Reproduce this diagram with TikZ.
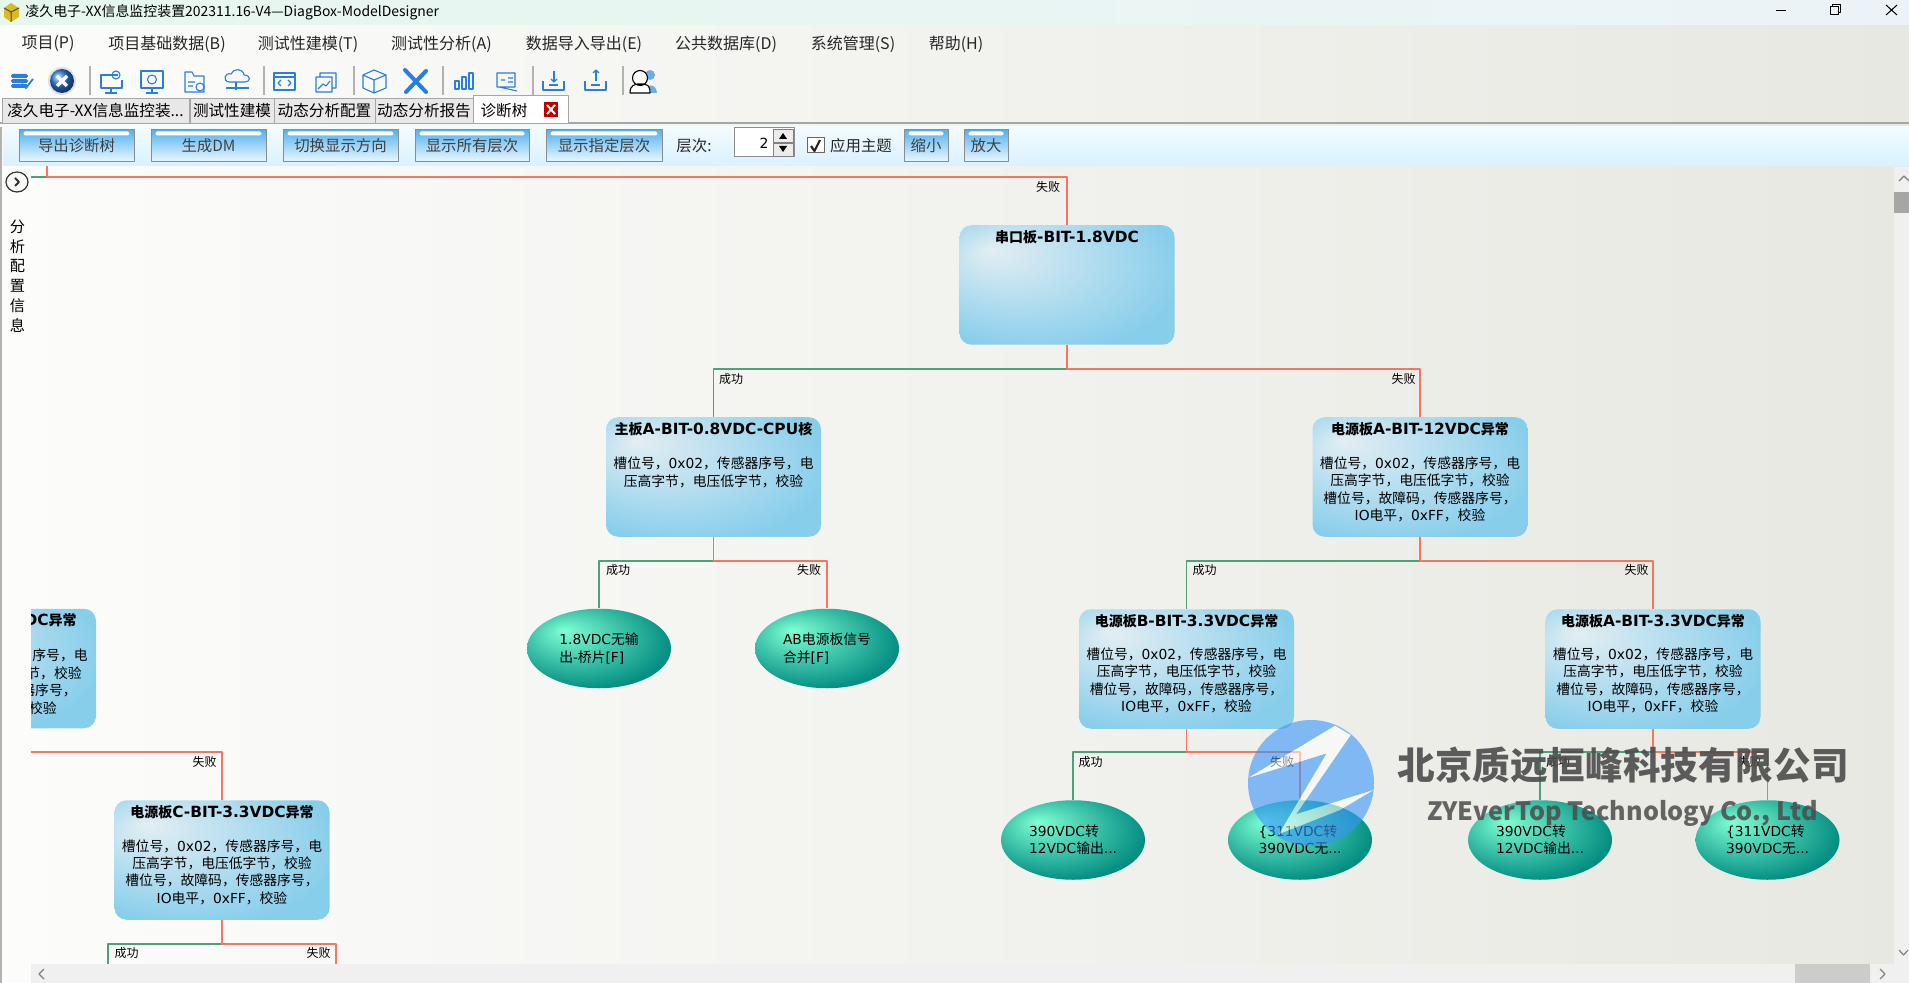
\documentclass[tikz,border=0pt]{standalone}
\usepackage{fontspec}
\setmainfont{DejaVu Sans}
\newfontfamily\cjk{Noto Sans CJK SC}
\usetikzlibrary{shapes.geometric,calc}
\newcommand{\cn}[1]{{\cjk #1}}
\newcommand{\ct}[1]{{\cjk\fontsize{7}{8.6}\selectfont #1}}
\def\pxu{.5pt}
\definecolor{boardhi}{HTML}{E3EEF3}
\definecolor{boardlo}{HTML}{87CEEB}
\definecolor{leafhi}{HTML}{7FFFD4}
\definecolor{leaflo}{HTML}{008B80}
\definecolor{okgreen}{HTML}{4FA078}
\definecolor{failred}{HTML}{FA7560}
\definecolor{iconblue}{HTML}{2A7DE1}
\definecolor{markblue}{HTML}{3894FA}
\definecolor{btntop}{HTML}{52B3F0}
\definecolor{btnbot}{HTML}{EEF8FD}
\definecolor{striptop}{HTML}{F3FBFF}
\definecolor{stripbot}{HTML}{D9F1FF}
\definecolor{canvasl}{HTML}{FCFCFB}
\definecolor{canvasr}{HTML}{E8E8E2}
\definecolor{titlel}{HTML}{E6F7EE}
\definecolor{titler}{HTML}{ECF3F8}
\pgfdeclareradialshading{boardglow}{\pgfpoint{-18bp}{15bp}}{color(0bp)=(boardhi); color(33bp)=(boardlo); color(50bp)=(boardlo)}
\pgfdeclareradialshading{leafglow}{\pgfpoint{-12.5bp}{11.5bp}}{color(0bp)=(leafhi); color(31bp)=(leaflo); color(50bp)=(leaflo)}
\tikzset{
  boardbox/.style={shading=boardglow,rounded corners=6pt,minimum width=215*\pxu,minimum height=119.5*\pxu,inner sep=0pt},
  boardtitle/.style={font=\fontsize{7.7}{8.6}\selectfont\bfseries,inner sep=0pt},
  boardbody/.style={font=\fontsize{6.9}{8.65}\selectfont,align=center,inner sep=0pt},
  leafnode/.style={ellipse,shading=leafglow,minimum width=144*\pxu,minimum height=79.5*\pxu,inner sep=0pt,font=\fontsize{6.9}{8.7}\selectfont,align=left},
  okline/.style={draw=okgreen,line width=.65pt},
  failline/.style={draw=failred,line width=.65pt},
  tag/.style={font=\cjk\fontsize{6}{7}\selectfont,inner sep=0pt},
  menutext/.style={font=\cjk\fontsize{8}{9}\selectfont,text=black!85,inner sep=0pt},
  tabnode/.style={draw=black!35,fill=black!9,line width=.5pt,font=\cjk\fontsize{7.8}{9}\selectfont,inner sep=0pt,minimum height=25*\pxu},
  uibutton/.style={draw=black!45,line width=.5pt,top color=btntop,bottom color=btnbot,minimum height=32*\pxu,inner sep=0pt,font=\cjk\fontsize{7.7}{9}\selectfont,text=black!75},
  sepline/.style={draw=black!30,line width=.6pt},
  iconline/.style={draw=iconblue,line width=.55pt},
  chevron/.style={draw=black!50,line width=.6pt},
}
\begin{document}
\begin{tikzpicture}[x=\pxu,y=-\pxu,line join=round]
\useasboundingbox (0,0) rectangle (1909,983);
% window background
\shade[left color=canvasl,right color=canvasr] (0,25) rectangle (1909,983);
\shade[left color=titlel,right color=titler] (0,0) rectangle (1909,25);
\fill[black!30] (0,127) rectangle (1.5,983);
\draw[black!35,line width=.6pt] (0,123) -- (473,123) (568,123) -- (1909,123);
\shade[top color=striptop,bottom color=stripbot] (3,127) rectangle (1909,166);
% title bar
\fill[yellow!70!orange!85!black] (4,8) -- (11,3) -- (19,8) -- (19,17) -- (11,22) -- (4,17) -- cycle;
\draw[black!70,line width=.5pt] (4,8) -- (11,12) -- (19,8) (11,12) -- (11,22);
\node[font=\cjk\fontsize{6.97}{9}\selectfont,anchor=west,inner sep=0pt] (apptitle) at (25,12) {凌久电子-XX信息监控装置202311.16-V4—DiagBox-ModelDesigner};
\draw[black,line width=.5pt] (1776,10.5) -- (1786,10.5);
\draw[black,line width=.5pt] (1830,7) rectangle (1838,15) (1832,7) -- (1832,5) -- (1840,5) -- (1840,13) -- (1838,13);
\draw[black,line width=.5pt] (1886,5) -- (1897,15) (1897,5) -- (1886,15);
% menu
\foreach \i/\x/\txt in {1/48/项目(P),2/167/项目基础数据(B),3/308/测试性建模(T),4/441.5/测试性分析(A),5/584/数据导入导出(E),6/726/公共数据库(D),7/853/系统管理(S),8/956/帮助(H)}
  \node[menutext] (menu\i) at (\x,44) {\txt};
% toolbar
\foreach \x in {90,264,354,443,533,623}
  \draw[sepline] (\x,66) -- (\x,95);
\foreach \y in {74,79,84}
  \fill[iconblue,rounded corners=.8pt] (11,\y) rectangle (28,\y+4);
\draw[iconblue,line width=.9pt] (22,84) -- (26,88) -- (33,79);
\fill[black!12] (62,81) circle (14);
\shade[ball color=iconblue] (62,81) circle (12);
\draw[white,line width=1.6pt] (57,76) -- (67,86) (67,76) -- (57,86);
% monitors and folder
\draw[iconline] (118,75) -| (101,88) -- (122,88) -- (122,80) (111,88) -- (111,93) (105,93) -- (117,93);
\draw[iconline] (116,75) circle (4);
\draw[iconline] (141,71) rectangle (163,88) (152,88) -- (152,93) (146,93) -- (158,93);
\draw[iconline] (152,79.5) circle (4.5);
\draw[iconline] (185,72) -- (192,72) -- (194,76) -- (204,76) -- (204,92) -- (185,92) -- cycle;
\draw[iconline] (200,87) circle (4) (188,82) -- (195,82) (188,86) -- (193,86);
\draw[iconline] (229,82) .. controls (222,81) and (225,72) .. (231,74) .. controls (233,68) and (243,68) .. (244,75) .. controls (251,75) and (251,82) .. (245,82) -- cycle;
\draw[iconline] (236,82) -- (236,90) (226,88) -- (249,88);
\draw[iconline] (274,73) rectangle (295,90) (274,77) -- (295,77);
\draw[iconline] (281,80) -- (278,83) -- (281,86) (288,80) -- (291,83) -- (288,86);
\draw[iconline] (316,77) rectangle (332,92) (320,77) -- (320,73) -- (336,73) -- (336,88) -- (332,88) (318,89) -- (323,84) -- (326,86) -- (330,81);
% box and tools
\draw[iconline] (374,70) -- (386,75) -- (386,88) -- (374,93) -- (363,88) -- (363,75) -- cycle (363,75) -- (374,80) -- (386,75) (374,80) -- (374,93);
\draw[iconblue,line width=2pt,line cap=round] (405,70) -- (426,92) (426,71) -- (406,92);
\foreach \x/\h in {455/8,462/12,469/16}
  \draw[iconline] (\x,89) rectangle (\x+4,89-\h);
\draw[iconline] (497,73) rectangle (515,87) (499,87) -- (517,91) (501,80) -- (505,80) (508,78) -- (513,78) (508,82) -- (513,82);
\foreach \x/\d in {554/1,596/-1} {
  \draw[iconline] (\x-11,81) -- (\x-11,90) -- (\x+10,90) -- (\x+10,81) (\x-5,85) -- (\x+4,85);
  \draw[iconline] (\x,71) -- (\x,81);
  \draw[iconline] (\x-3,76+3*\d) -- (\x,76+6*\d) -- (\x+3,76+3*\d);
}
\fill[cyan!70!blue!60] (650,75) circle (5) (644,93) .. controls (644,84) and (656,82) .. (657,93) -- cycle;
\draw[black,line width=.55pt,fill=white] (640,78) circle (7.5) (630,93) .. controls (630,84) and (636,85) .. (637,84) -- (644,84) .. controls (646,85) and (650,84) .. (650,93) -- cycle;
% tabs
\def\tabfirst{凌久电子-XX信息监控装...}
\node[tabnode,minimum width=187*\pxu] (tab1) at (95.5,111) {\tabfirst};
\node[tabnode,minimum width=84*\pxu] (tab2) at (232,111) {测试性建模};
\node[tabnode,minimum width=101*\pxu] (tab3) at (324.5,111) {动态分析配置};
\node[tabnode,minimum width=98*\pxu] (tab4) at (424,111) {动态分析报告};
\node[tabnode,fill=white,minimum width=95*\pxu,minimum height=28*\pxu] (tab5) at (520.5,110) {};
\node[font=\cjk\fontsize{7.8}{9}\selectfont,inner sep=0pt] (tab5text) at (504,111) {诊断树};
\fill[red!75!black] (544,102) rectangle (558,117);
\draw[white,line width=1pt] (547,105) -- (555,114) (555,105) -- (547,114);
% strip buttons
\foreach \i/\x/\w/\txt in {1/76.5/115/导出诊断树,2/208.5/115/生成DM,3/340.5/115/切换显示方向,4/472/114/显示所有层次,5/604/116/显示指定层次,6/926/44/缩小,7/986/44/放大} {
  \node[uibutton,minimum width=\w*\pxu] (btn\i) at (\x,146) {\txt};
  \fill[white,rounded corners=1pt] ($(btn\i.north west)+(5,2)$) rectangle ($(btn\i.north east)+(-5,6)$);
}
\node[menutext,font=\cjk\fontsize{7.7}{9}\selectfont] (levellabel) at (694,146) {层次:};
\draw[black!45,fill=white,line width=.5pt] (734,128) rectangle (794,157);
\node[font=\fontsize{7}{9}\selectfont,inner sep=0pt] (levelvalue) at (764,143) {2};
\draw[black!50,fill=black!8,line width=.4pt] (773,129) rectangle (793,142) (773,143) rectangle (793,156);
\fill[black] (779,139) -- (783,133) -- (787,139) -- cycle (779,146) -- (787,146) -- (783,152) -- cycle;
\draw[black!60,fill=white,line width=.5pt] (807,138) rectangle (824,153);
\draw[black!85,line width=1.1pt] (811,146) -- (814.5,151) -- (820,140);
\node[menutext,font=\cjk\fontsize{7.7}{9}\selectfont] (themelabel) at (861,146) {应用主题};
% side panel
\draw[black!80,line width=.6pt] (17,182) ellipse (11 and 10);
\draw[black!80,line width=.9pt] (15,178) -- (19,182) -- (15,186);
\node[font=\cjk\fontsize{7.6}{9.85}\selectfont,align=center,inner sep=0pt] (sidetext) at (17.5,276) {分\\析\\配\\置\\信\\息};
% diagnosis tree: boxes
\foreach \name/\x/\ytop/\title in {serial/1067/225/\ct{串口板}-BIT-1.8VDC,mainA/713.5/417/\ct{主板}A-BIT-0.8VDC-CPU\ct{核},powerA/1420/417/\ct{电源板}A-BIT-12VDC\ct{异常},powerB/1186.5/609/\ct{电源板}B-BIT-3.3VDC\ct{异常},powerE/1653/609/\ct{电源板}A-BIT-3.3VDC\ct{异常},powerC/222/800/\ct{电源板}C-BIT-3.3VDC\ct{异常}} {
  \node[boardbox] (\name) at (\x,\ytop+60) {};
  \node[boardtitle] (\name title) at (\x,\ytop+12) {\title};
}
\def\lineA{\cn{槽位号，}0x02\cn{，传感器序号，电}}
\def\lineB{\cn{压高字节，电压低字节，校验}}
\def\lineC{\cn{槽位号，故障码，传感器序号，}}
\def\lineD{IO\cn{电平，}0xFF\cn{，校验}}
\node[boardbody] (mainAbody) at (713.5,472.5) {\lineA\\\lineB};
\foreach \name/\x/\y in {powerA/1420/489.5,powerB/1186.5/680.5,powerE/1653/680.5,powerC/222/872}
  \node[boardbody] (\name body) at (\x,\y) {\lineA\\\lineB\\\lineC\\\lineD};
% box cut by the left edge
\begin{scope}
\clip (31,600) rectangle (100,735);
\node[boardbox] (powerD) at (-11.5,668.5) {};
\node[boardtitle,anchor=east] (powerDtitle) at (77,620) {DC\ct{异常}};
\node[boardbody,anchor=east] (powerDa) at (88,655) {\cn{序号，电}};
\node[boardbody,anchor=east] (powerDb) at (82,673) {\cn{节，校验}};
\node[boardbody,anchor=east] (powerDc) at (77,690) {\cn{器序号，}};
\node[boardbody,anchor=east] (powerDd) at (57,708) {\cn{校验}};
\end{scope}
% leaves
\node[leafnode] (leaf1) at (599,648.5) {1.8VDC\cn{无输}\\\cn{出-桥片}[F]};
\node[leafnode] (leaf2) at (827,648.5) {AB\cn{电源板信号}\\\cn{合并}[F]};
\node[leafnode] (leaf3) at (1073,840) {390VDC\cn{转}\\12VDC\cn{输出}...};
\node[leafnode] (leaf4) at (1300,840) {\{311VDC\cn{转}\\390VDC\cn{无}...};
\node[leafnode] (leaf5) at (1540,840) {390VDC\cn{转}\\12VDC\cn{输出}...};
\node[leafnode] (leaf6) at (1767.5,840) {\{311VDC\cn{转}\\390VDC\cn{无}...};
% connectors
\coordinate (topstart) at (31,177);
\coordinate (topstem) at (47,166);
\coordinate (topjoin) at (47,177);
\coordinate (joinS) at (1067,369);
\coordinate (joinM) at (713.5,561);
\coordinate (joinA) at (1420,561);
\coordinate (joinB) at (1186.5,752);
\coordinate (joinE) at (1653,752);
\coordinate (joinC) at (222,944);
\coordinate (leftend) at (31,752);
\coordinate (downC1) at (108,964);
\coordinate (downC2) at (336,964);
\draw[okline] (topstart) -- (topjoin);
\draw[failline] (topstem) -- (topjoin) -| (serial.north);
\draw[failline] (leftend) -| (powerC.north);
\foreach \j/\from/\ka/\kb in {joinS/serial/mainA/powerA,joinM/mainA/leaf1/leaf2,joinA/powerA/powerB/powerE,joinB/powerB/leaf3/leaf4,joinE/powerE/leaf5/leaf6} {
  \draw[okline] (\from.south) -- (\j) -| (\ka.north);
  \draw[failline] (\from.south) -- (\j) -| (\kb.north);
}
\draw[okline] (powerC.south) -- (joinC) -| (downC1);
\draw[failline] (powerC.south) -- (joinC) -| (downC2);
% branch labels
\foreach \i/\x/\y in {1/731/379,2/618/570,3/1204.5/570,4/1090.5/762,5/1558/762,6/126.5/953}
  \node[tag] (ok\i) at (\x,\y) {成功};
\foreach \i/\x/\y in {1/1048/187,2/1403.5/379,3/809/570,4/1636.5/570,5/1282/762,6/1749.5/762,7/204.5/762,8/318.5/953}
  \node[tag] (fail\i) at (\x,\y) {失败};
% scroll bars
\fill[black!6] (1894,167) rectangle (1909,964);
\fill[black!6] (31,964) rectangle (1909,983);
\fill[black!35] (1894,192) rectangle (1909,213);
\fill[black!20] (1795,964) rectangle (1870,983);
\draw[chevron] (1899,181) -- (1904,176) -- (1909,181);
\draw[chevron] (1899,950) -- (1903.5,955) -- (1908,950);
\draw[chevron] (44,969) -- (39,974) -- (44,979);
\draw[chevron] (1880,969) -- (1885,974) -- (1880,979);
% watermark
\fill[markblue,opacity=.6,even odd rule] (1311,783) circle (63) (1248.5,777.7) -- (1335,725.7) -- (1350.7,735) -- (1296,814.3) -- (1373.5,790) -- (1340,810) -- (1279,834) -- (1326.7,753.3) -- cycle;
\fill[white,opacity=.55] (1248.5,777.7) -- (1335,725.7) -- (1350.7,735) -- (1296,814.3) -- (1373.5,790) -- (1340,810) -- (1279,834) -- (1326.7,753.3) -- cycle;
\node[font=\cjk\bfseries\fontsize{18.8}{20}\selectfont,text=black!70,opacity=.9,inner sep=0pt] (markcn) at (1623,765) {北京质远恒峰科技有限公司};
\node[font=\cjk\bfseries\fontsize{12.6}{15}\selectfont,text=black!70,opacity=.85,inner sep=0pt] (marken) at (1622.5,813) {ZYEverTop Technology Co., Ltd};
\end{tikzpicture}
\end{document}
